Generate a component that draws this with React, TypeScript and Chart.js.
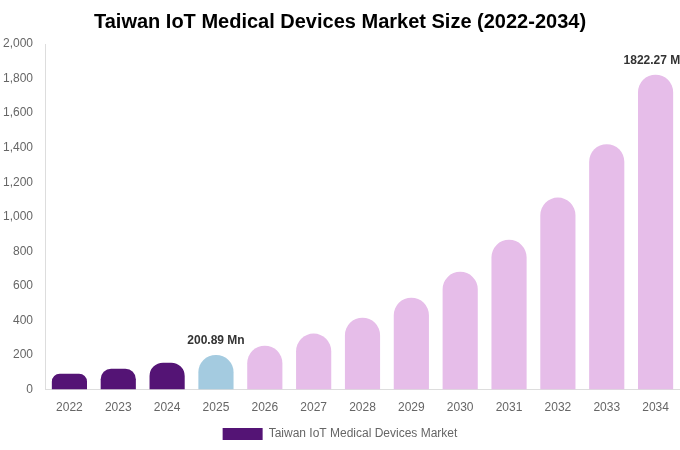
import { useEffect, useRef } from "react";
import { Chart, registerables } from "chart.js";

Chart.register(...registerables);

const years = ["2022", "2023", "2024", "2025", "2026", "2027", "2028", "2029", "2030", "2031", "2032", "2033", "2034"];
const marketSize = [92, 121, 156, 200.89, 254, 324, 416, 532, 682, 867, 1111, 1420, 1822.27];
const labelledYears = ["2025", "2034"];

const HISTORIC = "#541475";
const BASE_YEAR = "#a4cbe0";
const FORECAST = "#e6bde9";

const barColors = years.map((y) => {
  const n = Number(y);
  if (n < 2025) return HISTORIC;
  if (n === 2025) return BASE_YEAR;
  return FORECAST;
});

const valueLabels = {
  id: "valueLabels",
  afterDatasetsDraw(chart: Chart) {
    const ctx = chart.ctx;
    const meta = chart.getDatasetMeta(0);
    ctx.save();
    ctx.font = "bold 12px 'Liberation Sans', Arial, sans-serif";
    ctx.fillStyle = "#333333";
    ctx.textAlign = "center";
    ctx.textBaseline = "bottom";
    years.forEach((y, i) => {
      if (!labelledYears.includes(y)) return;
      const bar = meta.data[i] as any;
      ctx.fillText(`${marketSize[i].toFixed(2)} Mn`, bar.x, bar.y - 8);
    });
    ctx.restore();
  },
};

export default function App() {
  const canvasRef = useRef<HTMLCanvasElement | null>(null);

  useEffect(() => {
    document.body.style.margin = "0";
    if (!canvasRef.current) return;

    const chart = new Chart(canvasRef.current, {
      type: "bar",
      data: {
        labels: years,
        datasets: [
          {
            label: "Taiwan IoT Medical Devices Market",
            data: marketSize,
            backgroundColor: barColors,
            borderRadius: { topLeft: 18, topRight: 18, bottomLeft: 0, bottomRight: 0 },
            borderSkipped: false,
          },
        ],
      },
      options: {
        responsive: true,
        maintainAspectRatio: false,
        animation: false,
        layout: { padding: { left: 0, right: 0, top: 0, bottom: 0 } },
        plugins: {
          title: {
            display: true,
            text: "Taiwan IoT Medical Devices Market Size (2022-2034)",
            color: "#000000",
            font: { size: 20, weight: "bold", family: "'Liberation Sans', Arial, sans-serif" },
            padding: { top: 10, bottom: 10 },
          },
          legend: {
            position: "bottom",
            labels: {
              boxWidth: 40,
              boxHeight: 12,
              padding: 2,
              color: "#666666",
              font: { size: 12, family: "'Liberation Sans', Arial, sans-serif" },
              generateLabels: () => [
                {
                  text: "Taiwan IoT Medical Devices Market",
                  fillStyle: HISTORIC,
                  strokeStyle: HISTORIC,
                  lineWidth: 0,
                  hidden: false,
                  datasetIndex: 0,
                  fontColor: "#666666",
                },
              ],
            },
          },
          tooltip: { enabled: false },
        },
        scales: {
          x: {
            grid: { display: false, drawTicks: false },
            border: { color: "#dddddd" },
            ticks: {
              color: "#666666",
              padding: 11,
              font: { size: 12, family: "'Liberation Sans', Arial, sans-serif" },
            },
          },
          y: {
            min: 0,
            max: 2000,
            grid: { display: false, drawTicks: false },
            border: { color: "#dddddd" },
            afterFit: (scale: any) => {
              scale.width = 45;
            },
            ticks: {
              stepSize: 200,
              color: "#666666",
              padding: 12,
              font: { size: 12, family: "'Liberation Sans', Arial, sans-serif" },
            },
          },
        },
      },
      plugins: [valueLabels],
    });

    return () => {
      chart.destroy();
    };
  }, []);

  return (
    <div style={{ width: "680px", height: "450px", position: "relative" }}>
      <canvas ref={canvasRef}></canvas>
    </div>
  );
}
